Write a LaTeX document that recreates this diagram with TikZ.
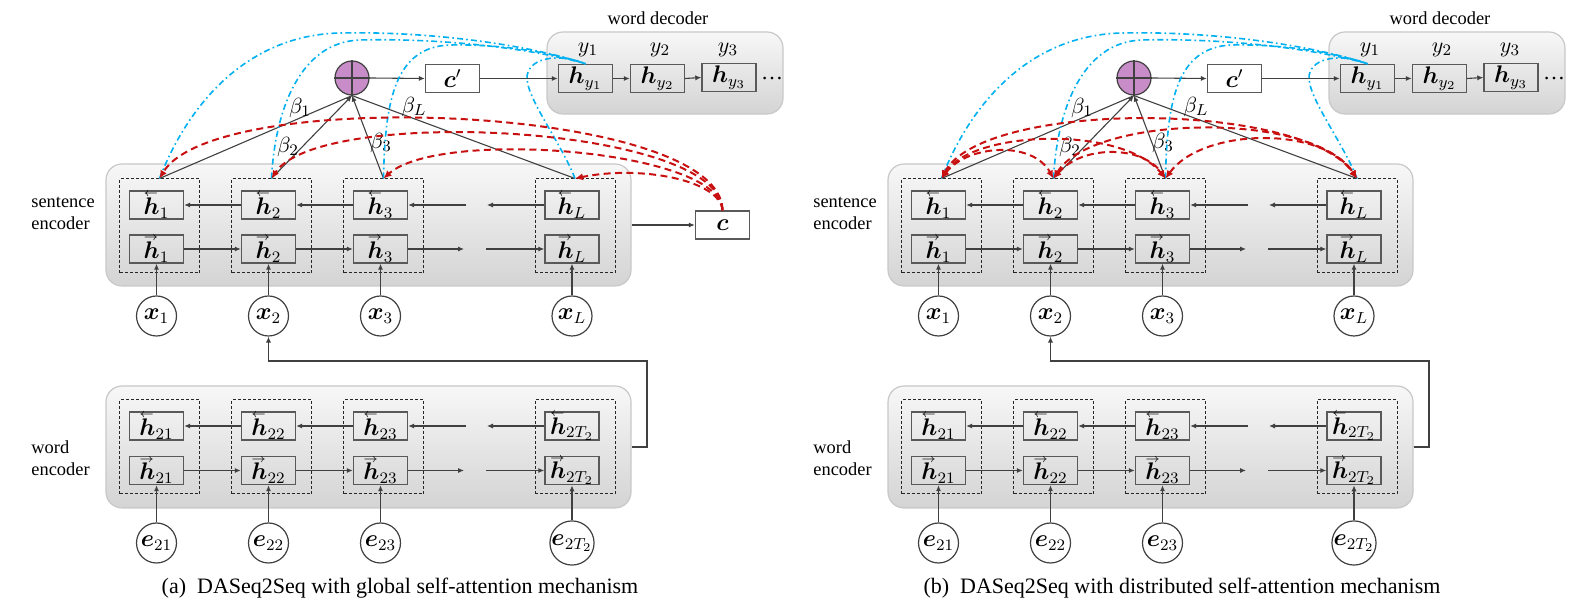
\documentclass[tikz,border=0pt]{standalone}
\usepackage{amsmath,bm}
\usepackage{fontspec}
\setmainfont{Liberation Serif}
\usetikzlibrary{arrows.meta}
\definecolor{lnk}{RGB}{64,64,64}
\definecolor{attblue}{RGB}{0,176,240}
\definecolor{attred}{RGB}{200,16,16}
\definecolor{plusfill}{RGB}{200,140,200}
\definecolor{boxline}{RGB}{89,89,89}
\definecolor{encline}{RGB}{200,200,200}
\newcommand\lh{\mathord{\rlap{\raisebox{1.62ex}{$\scriptscriptstyle\leftarrow$}}\bm h}}
\newcommand\rh{\mathord{\rlap{\raisebox{1.62ex}{$\scriptscriptstyle\rightarrow$}}\bm h}}
\tikzset{
 arr/.style={draw=lnk, line width=0.55pt, -{Latex[length=3pt,width=2.6pt]}},
 ln/.style={draw=lnk, line width=0.55pt},
 encbox/.style={draw=encline, line width=0.6pt, rounded corners=8pt, top color=black!3, bottom color=black!17, minimum width=262.5pt, minimum height=61pt, inner sep=0pt},
 colbox/.style={draw=black!85, line width=0.5pt, dash pattern=on 1.5pt off 1pt, minimum width=40pt, minimum height=47pt, inner sep=0pt},
 hbox/.style={draw=boxline, line width=0.7pt, minimum width=27pt, minimum height=14pt, inner sep=0pt, font=\fontsize{12}{14}\selectfont},
 wbox/.style={hbox, fill=white},
 inp/.style={draw=lnk, line width=0.6pt, circle, minimum size=20pt, inner sep=0pt, fill=white, font=\fontsize{12}{14}\selectfont},
 plusnode/.style={draw=lnk, line width=0.6pt, circle, minimum size=17pt, inner sep=0pt, fill=plusfill},
 lab/.style={font=\fontsize{9.2}{11}\selectfont, align=left, inner sep=0pt},
 bluecurve/.style={draw=attblue, line width=0.8pt, dash pattern=on 3pt off 1.6pt on 0.8pt off 1.6pt},
 redd/.style={draw=attred, line width=1pt, dash pattern=on 3.5pt off 2.2pt},
 redarr/.style={redd, -{Latex[length=4pt,width=3.6pt]}},
 redarr2/.style={redd, {Latex[length=4pt,width=3.6pt]}-{Latex[length=4pt,width=3.6pt]}},
 betalab/.style={inner sep=0pt},
 captext/.style={font=\fontsize{11}{13}\selectfont, inner sep=0pt},
}
\newcommand\drawpanel[1]{%
 \node[encbox] (#1se) at (368.5,225) {};
 \node[encbox] (#1we) at (368.5,447) {};
 \node[encbox, minimum width=118pt, minimum height=41pt] (#1wd) at (665,73) {};
 \node[lab] (#1wdl) at (658,18) {word decoder};
 \node[lab, anchor=west] (#1sel) at (31,213.5) {sentence\\encoder};
 \node[lab, anchor=west] (#1wel) at (31,458.5) {word\\encoder};
 \foreach \i/\x/\s/\w in {1/156.5/1/21, 2/268.5/2/22, 3/380.5/3/23, L/572/L/2T_2}{
  \node[colbox] (#1c\i) at (\x+3,226) {};
  \node[colbox] (#1d\i) at (\x+3,447) {};
  \node[hbox] (#1st\i) at (\x,205) {$\lh_{\s}$};
  \node[hbox] (#1sb\i) at (\x,249) {$\rh_{\s}$};
  \node[hbox] (#1wt\i) at (\x,426) {$\lh_{\w}$};
  \node[hbox] (#1wb\i) at (\x,470.5) {$\rh_{\w}$};
  \node[inp] (#1x\i) at (\x,316) {$\bm x_{\s}$};
  \node[inp] (#1e\i) at (\x,543) {$\bm e_{\w}$};
  \draw[arr] (#1x\i) -- (#1sb\i);
  \draw[arr] (#1e\i) -- (#1wb\i);
 }
 % sentence rows
 \draw[arr] (#1st2) -- (#1st1);
 \draw[arr] (#1st3) -- (#1st2);
 \coordinate (#1gs1) at (466,205);
 \coordinate (#1gs2) at (487,205);
 \draw[arr] (#1gs1) -- (#1st3.east);
 \draw[arr] (#1stL) -- (#1gs2);
 \draw[arr] (#1sb1) -- (#1sb2);
 \draw[arr] (#1sb2) -- (#1sb3);
 \coordinate (#1gs3) at (464,249);
 \coordinate (#1gs4) at (486,249);
 \draw[arr] (#1sb3) -- (#1gs3);
 \draw[arr] (#1gs4) -- (#1sbL);
 % word rows
 \draw[arr] (#1wt2) -- (#1wt1);
 \draw[arr] (#1wt3) -- (#1wt2);
 \coordinate (#1gw1) at (466,426);
 \coordinate (#1gw2) at (487,426);
 \draw[arr] (#1gw1) -- (#1wt3.east);
 \draw[arr] (#1wtL) -- (#1gw2);
 \draw[arr] (#1wb1) -- (#1wb2);
 \draw[arr] (#1wb2) -- (#1wb3);
 \coordinate (#1gw3) at (464,470.5);
 \coordinate (#1gw4) at (486,470.5);
 \draw[arr] (#1wb3) -- (#1gw3);
 \draw[arr] (#1gw4) -- (#1wbL);
 % word encoder -> x2
 \coordinate (#1k1) at (647,447);
 \coordinate (#1k2) at (647,361);
 \coordinate (#1k3) at (268.5,361);
 \draw[arr] (#1we.east) -- (#1k1) -- (#1k2) -- (#1k3) -- (#1x2);
 % decoder
 \node[plusnode] (#1pl) at (352,78) {};
 \draw[ln] (#1pl.north) -- (#1pl.south) (#1pl.west) -- (#1pl.east);
 \node[wbox] (#1cp) at (452.5,78.5) {$\bm c'$};
 \node[hbox] (#1hy1) at (585.5,78.5) {$\bm h_{y_1}$};
 \node[hbox] (#1hy2) at (657.5,78.5) {$\bm h_{y_2}$};
 \node[hbox] (#1hy3) at (729,77.5) {$\bm h_{y_3}$};
 \node[inner sep=0pt] (#1dots) at (772,79) {\dots};
 \node[inner sep=0pt] (#1y1) at (588,50) {$y_1$};
 \node[inner sep=0pt] (#1y2) at (660,50) {$y_2$};
 \node[inner sep=0pt] (#1y3) at (728,50) {$y_3$};
 \draw[arr] (#1pl.east) -- (#1cp.west);
 \draw[arr] (#1cp) -- (#1hy1);
 \draw[arr] (#1hy1) -- (#1hy2);
 \draw[arr] (#1hy2.east) -- (#1hy3.west);
 % attention weights
 \draw[ln] (#1c1.north) -- (#1pl.south);
 \draw[arr] (#1c2.north) -- (#1pl.south);
 \draw[arr] (#1c3.north) -- (#1pl.south);
 \draw[ln] (#1cL.north) -- (#1pl.south);
 \node[betalab] (#1b1) at (300,108) {$\beta_1$};
 \node[betalab] (#1b2) at (288,147) {$\beta_2$};
 \node[betalab] (#1b3) at (381,143) {$\beta_3$};
 \node[betalab] (#1bL) at (414,107) {$\beta_L$};
 % blue dash-dot curves
 \draw[bluecurve] (#1c1.north) .. controls (190,100) and (250,35) .. (340,33) .. controls (430,31) and (530,45) .. (#1hy1.north);
 \draw[bluecurve] (#1c2.north) .. controls (275,110) and (300,42) .. (360,40) .. controls (440,38) and (530,48) .. (#1hy1.north);
 \draw[bluecurve] (#1c3.north) .. controls (385,100) and (395,47) .. (450,45) .. controls (500,44) and (550,52) .. (#1hy1.north);
 \draw[bluecurve] (#1cL.north) .. controls (560,140) and (520,90) .. (528,72) .. controls (535,55) and (565,55) .. (#1hy1.north);
}
\begin{document}
\begin{tikzpicture}[x=0.5pt,y=-0.5pt,font=\fontsize{11}{13}\selectfont]
\useasboundingbox (0,0) rectangle (1586,608);
% panel (a)
\drawpanel{a}
\node[wbox] (ac) at (722.5,225) {$\bm c$};
\draw[arr] (ase.east) -- (ac.west);
\draw[redarr] (ac.north) .. controls (722,105) and (215,85) .. (ac1.north);
\draw[redarr] (ac.north) .. controls (722,125) and (320,105) .. (ac2.north);
\draw[redarr] (ac.north) .. controls (722,150) and (440,128) .. (ac3.north);
\draw[redarr] (ac.north) .. controls (720,180) and (640,165) .. (acL.north);
\node[captext] (capa) at (400,588) {(a)\enspace DASeq2Seq with global self-attention mechanism};
% panel (b)
\begin{scope}[shift={(782,0)}]
\drawpanel{b}
\draw[redarr2] (bc1.north) .. controls (200,100) and (520,100) .. (bcL.north);
\draw[redarr2] (bc2.north) .. controls (310,115) and (530,110) .. (bcL.north);
\draw[redarr2] (bc1.north) .. controls (190,130) and (340,125) .. (bc3.north);
\draw[redarr2] (bc3.north) .. controls (420,128) and (540,125) .. (bcL.north);
\draw[redarr2] (bc1.north) .. controls (185,145) and (250,140) .. (bc2.north);
\draw[redarr2] (bc2.north) .. controls (300,145) and (360,145) .. (bc3.north);
\node[captext] (capb) at (400,588) {(b)\enspace DASeq2Seq with distributed self-attention mechanism};
\end{scope}
\end{tikzpicture}
\end{document}
